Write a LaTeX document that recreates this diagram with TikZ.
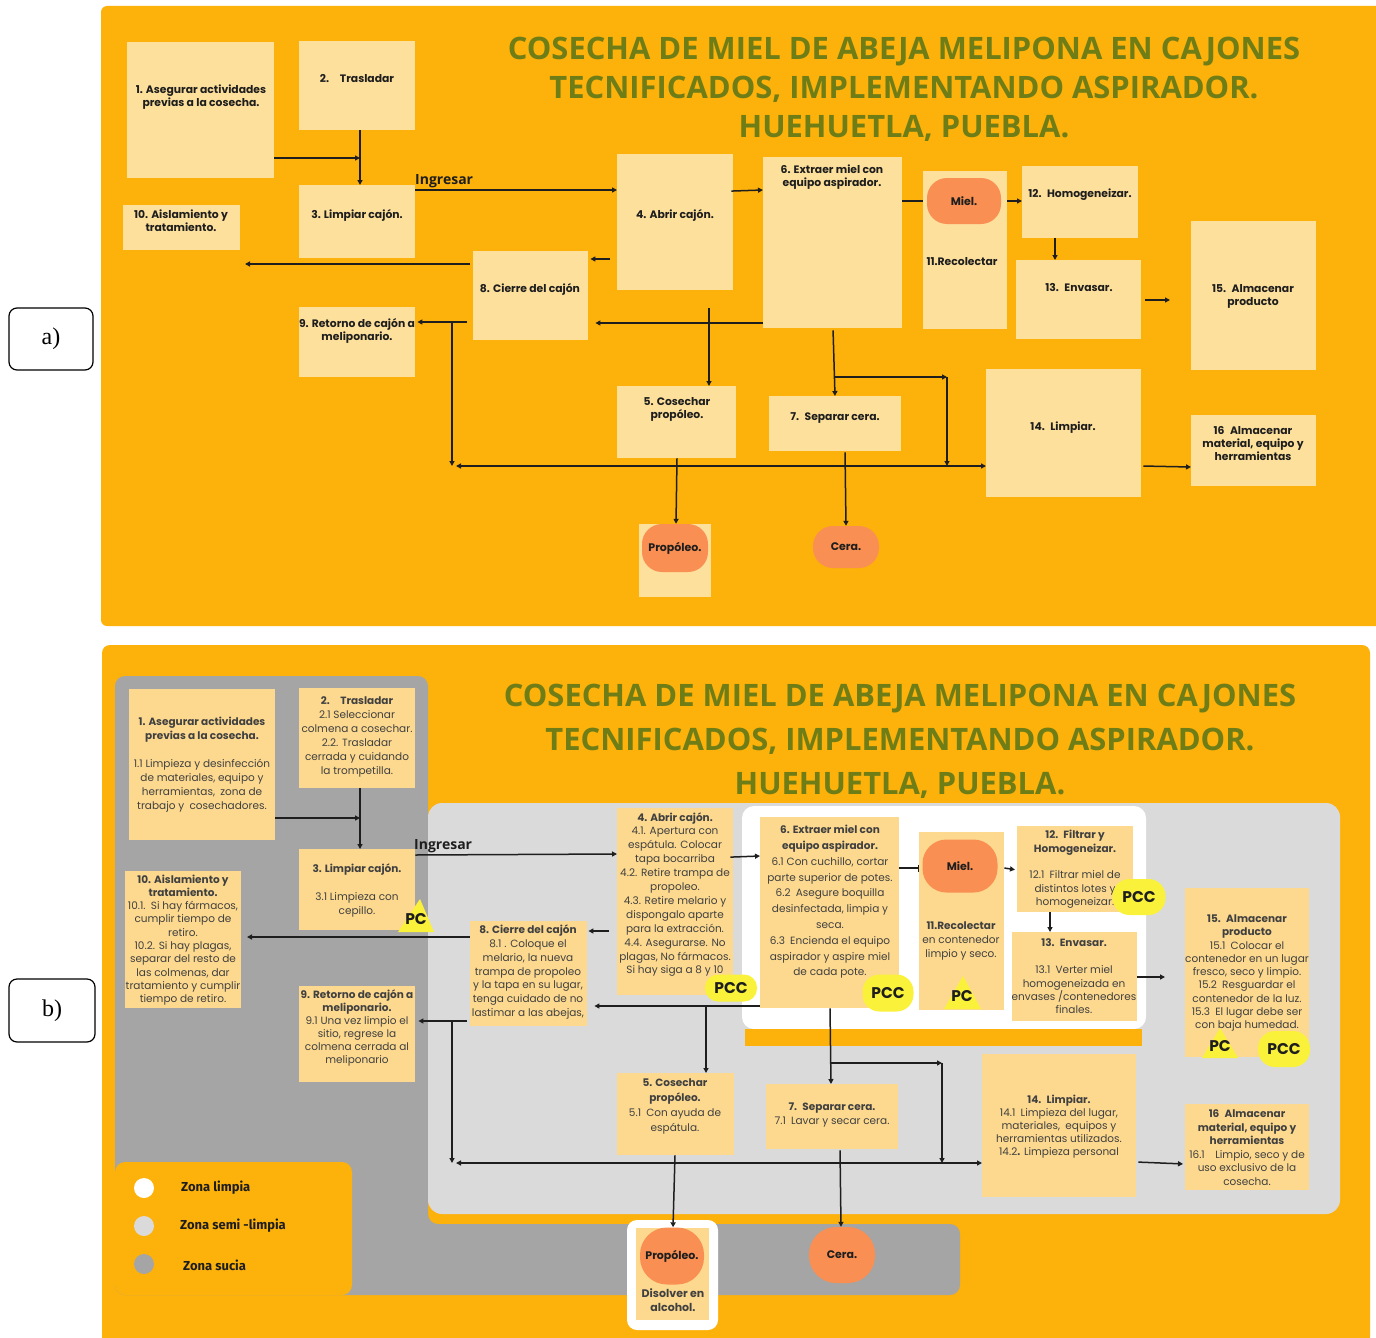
\documentclass[tikz,border=0pt]{standalone}
\usepackage{fontspec}
\setmainfont{Poppins}
\newfontfamily\titlef{Open Sans}
\newfontfamily\legf{Fira Sans}
\newfontfamily\serf{Liberation Serif}
\usetikzlibrary{arrows.meta,calc}
\definecolor{bgc}{HTML}{FDB10B}
\definecolor{boxa}{HTML}{FDE09C}
\definecolor{boxb}{HTML}{FDD98F}
\definecolor{ovalc}{HTML}{F98F52}
\definecolor{pccc}{HTML}{FAF23A}
\definecolor{titlec}{HTML}{6F7D17}
\definecolor{lgray}{HTML}{DADADA}
\definecolor{dgray}{HTML}{A5A5A5}
\definecolor{ink}{HTML}{1E1E1E}
\newcommand\abox[5]{\node[boxA, minimum width=#4pt, minimum height=#5pt] (#1) at (#2,#3) {};}
\newcommand\bbox[5]{\node[boxB, minimum width=#4pt, minimum height=#5pt] (#1) at (#2,#3) {};}
\newcommand\bfs[1]{\fontsize{10.5}{#1}\selectfont}
\begin{document}
\begin{tikzpicture}[x=1pt,y=-1pt,
  boxA/.style={fill=boxa, draw=none, inner sep=0, anchor=north west},
  boxB/.style={fill=boxb, draw=none, inner sep=0, anchor=north west},
  ta/.style={font=\fontsize{10.8}{13}\selectfont\bfseries, align=center, inner sep=0, text=ink},
  tb/.style={font=\bfs{14}, align=center, inner sep=0, text=ink!85},
  oval/.style={fill=ovalc, rounded corners=20pt, inner sep=0, font=\fontsize{11}{13}\selectfont\bfseries, text=ink},
  pcc/.style={fill=pccc, rounded corners=13pt, inner sep=0, font=\fontsize{15.5}{15.5}\selectfont\bfseries, text=ink},
  tri/.style={fill=pccc, draw=none},
  pctxt/.style={font=\fontsize{15.5}{15.5}\selectfont\bfseries, text=ink, inner sep=0},
  arr/.style={draw=ink, line width=1.5pt, -{Triangle[length=5pt,width=5pt]}},
  plain/.style={draw=ink, line width=1.5pt},
  dbl/.style={draw=ink, line width=1.5pt, {Triangle[length=5pt,width=5pt]}-{Triangle[length=5pt,width=5pt]}},
  ttl/.style={text=titlec, align=center, inner sep=0},
  ing/.style={font=\titlef\bfseries\fontsize{14}{14}\selectfont, text=ink, inner sep=0},
  leg/.style={font=\legf\bfseries\fontsize{13}{13}\selectfont, text=ink, inner sep=0, anchor=west},
  lab/.style={draw=black, rounded corners=8pt, line width=1.2pt, fill=white, font=\serf\fontsize{24}{24}\selectfont, inner sep=0}
]
\useasboundingbox (0,0) rectangle (1376,1338);
\fill[white] (0,0) rectangle (1376,1338);

% labels
\node[lab, minimum width=84pt, minimum height=62pt] (laba) at (51,339) {a)};
\node[lab, minimum width=86pt, minimum height=63pt] (labb) at (52,1010.5) {b)};

% ================= PANEL A =================
\fill[bgc, rounded corners=6pt] (101,6) rectangle (1382,626);
\node[ttl, font=\titlef\bfseries\fontsize{30.9}{39}\selectfont] (ttla) at (904,89)
 {COSECHA DE MIEL DE ABEJA MELIPONA EN CAJONES\\TECNIFICADOS, IMPLEMENTANDO ASPIRADOR.\\HUEHUETLA, PUEBLA.};

\abox{a1}{127}{42}{147}{136}
\abox{a2}{299}{41}{116}{89}
\abox{a3}{299}{185}{116}{73}
\abox{a10}{123}{205}{117}{45}
\abox{a9}{299}{307}{116}{70}
\abox{a8}{473}{251}{115}{89}
\abox{a4}{617}{154}{116}{136}
\abox{a6}{763}{157}{139}{171}
\abox{a11}{923}{171}{84}{158}
\abox{a12}{1022}{166}{116}{72}
\abox{a13}{1016}{260}{125}{79}
\abox{a15}{1191}{221}{125}{149}
\abox{a14}{986}{369}{155}{128}
\abox{a16}{1191}{415}{125}{71}
\abox{a5}{617}{386}{119}{72}
\abox{a7}{769}{396}{132}{55}
\abox{apb}{639}{524}{72}{73}

\node[ta] (at1) at (201,97) {1. Asegurar actividades\\previas a la cosecha.};
\node[ta] (at2) at (357,79) {2.\quad Trasladar};
\node[ta] (at3) at (357,215) {3. Limpiar cajón.};
\node[ta] (at10) at (181,221) {10. Aislamiento y\\tratamiento.};
\node[ta] (at9) at (357,331) {9. Retorno de cajón a\\meliponario.};
\node[ta] (at8) at (530,289) {8. Cierre del cajón};
\node[ta] (at4) at (675,215) {4. Abrir cajón.};
\node[ta] (at6) at (832,177) {6. Extraer miel con\\equipo aspirador.};
\node[oval, minimum width=74pt, minimum height=46pt] (amiel) at (964,201) {Miel.};
\node[ta] (at11) at (962,262) {11.Recolectar};
\node[ta] (at12) at (1080,195) {12.\enspace Homogeneizar.};
\node[ta] (at13) at (1079,288) {13.\enspace Envasar.};
\node[ta] (at15) at (1253,296) {15.\enspace Almacenar\\producto};
\node[ta] (at14) at (1063,428) {14.\enspace Limpiar.};
\node[ta] (at16) at (1253,444) {16\enspace Almacenar\\material, equipo y\\herramientas};
\node[ta] (at5) at (677,409) {5. Cosechar\\propóleo.};
\node[ta] (at7) at (835,418) {7.\enspace Separar cera.};
\node[oval, minimum width=66pt, minimum height=48pt] (apro) at (675,548) {Propóleo.};
\node[oval, minimum width=66pt, minimum height=42pt] (acera) at (846,547) {Cera.};
\node[ing, anchor=south west] (aing) at (415,188) {Ingresar};

\coordinate (aj1) at (360,158);
\coordinate (a10e) at (245,264);
\coordinate (aj2) at (452,322);
\coordinate (aj3) at (452,466);
\coordinate (aj4) at (709,308);
\coordinate (aj5) at (835,377);
\coordinate (aj6) at (947,377);
\coordinate (aj7) at (947,466);
\coordinate (aj8) at (456,466);
\draw[arr] (a1.east |- aj1) -- (aj1);
\draw[arr] (a2.south -| aj1) -- (a3.north -| aj1);
\draw[arr] (a3.east |- 0,190) -- (a4.west |- 0,190);
\draw[arr, shorten <=-2pt] (a4.east |- 0,191) -- (a6.west |- 0,190);
\draw[plain] (a6.east |- 0,201) -- (a11.west |- 0,201);
\draw[arr] (a11.east |- 0,201) -- (a12.west |- 0,201);
\draw[arr] (a12.south -| 1055,0) -- (a13.north -| 1055,0);
\draw[arr, shorten <=4pt, shorten >=21pt] (a13.east |- 0,300) -- (a15.west |- 0,300);
\draw[arr, shorten <=7pt, shorten >=2pt] (a4.west |- 0,259) -- (a8.east |- 0,259);
\draw[arr, shorten <=3pt] (a8.west |- 0,264) -- (a10e);
\draw[arr, shorten <=6pt, shorten >=2pt] (a8.west |- 0,322) -- (a9.east |- 0,322);
\draw[arr] (aj2) -- (aj3);
\draw[arr, shorten >=7pt] (a6.west |- 0,323) -- (a8.east |- 0,323);
\draw[arr] (aj4) -- (a5.north -| aj4);
\draw[arr, shorten <=2pt] (a6.south -| 833,0) -- (a7.north -| 835,0);
\draw[arr] (aj5) -- (aj6);
\draw[arr] (aj6) -- (aj7);
\draw[dbl] (aj8) -- (a14.west |- aj8);
\draw[arr] (a5.south -| 677,0) -- (apro.north -| 676,0);
\draw[arr, shorten <=1pt] (a7.south -| 845,0) -- (acera.north);
\draw[arr, shorten <=2pt] (a14.east |- 0,466) -- (a16.west |- 0,467);

% ================= PANEL B =================
\fill[bgc, rounded corners=8pt] (102,645) rectangle (1370,1345);
% zones
\fill[dgray, rounded corners=10pt] (115,676) -- (428,676) -- (428,1224) -- (960,1224) -- (960,1295) -- (115,1295) -- cycle;
\fill[lgray, rounded corners=14pt] (428,803) rectangle (1340,1214);
\fill[white, rounded corners=12pt] (742,806) rectangle (1146,1029);
\fill[bgc] (745,1029) rectangle (1142,1046);
\fill[bgc, rounded corners=10pt] (115,1162) rectangle (352,1295);

\node[ttl, font=\titlef\bfseries\fontsize{30.9}{44}\selectfont] (ttlb) at (900,741)
 {COSECHA DE MIEL DE ABEJA MELIPONA EN CAJONES\\TECNIFICADOS, IMPLEMENTANDO ASPIRADOR.\\HUEHUETLA, PUEBLA.};

\bbox{b1}{129}{689}{146}{151}
\bbox{b2}{299}{688}{116}{100}
\bbox{b3}{299}{849}{116}{81}
\bbox{b10}{125}{871}{116}{137}
\bbox{b9}{299}{986}{116}{96}
\bbox{b8}{470}{921}{117}{105}
\bbox{b4}{617}{808}{116}{187}
\bbox{b6}{760}{817}{139}{191}
\bbox{b11}{919}{832}{85}{178}
\bbox{b12}{1017}{826}{116}{86}
\bbox{b13}{1012}{932}{125}{89}
\bbox{b15}{1185}{888}{124}{169}
\bbox{b14}{982}{1054}{154}{143}
\bbox{b16}{1185}{1104}{124}{86}
\bbox{b5}{617}{1073}{117}{82}
\bbox{b7}{766}{1084}{132}{65}

\node[tb] (bt1) at (202,764.5) {\textbf{1. Asegurar actividades}\\\textbf{previas a la cosecha.}\\[14pt]1.1 Limpieza y desinfección\\de materiales, equipo y\\herramientas,\enspace zona de\\trabajo y\enspace cosechadores.};
\node[tb] (bt2) at (357,737) {\textbf{2.\quad Trasladar}\\2.1 Seleccionar\\colmena a cosechar.\\2.2. Trasladar\\cerrada y cuidando\\la trompetilla.};
\node[tb] (bt3) at (357,890) {\textbf{3. Limpiar cajón.}\\[14pt]3.1 Limpieza con\\cepillo.};
\node[tb, font=\bfs{13.3}] (bt10) at (183,940) {\textbf{10. Aislamiento y}\\\textbf{tratamiento.}\\10.1.\enspace Si hay fármacos,\\cumplir tiempo de\\retiro.\\10.2. Si hay plagas,\\separar del resto de\\las colmenas, dar\\tratamiento y cumplir\\tiempo de retiro.};
\node[tb, font=\bfs{13}] (bt9) at (357,1028) {\textbf{9. Retorno de cajón a}\\\textbf{meliponario.}\\9.1 Una vez limpio el\\sitio, regrese la\\colmena cerrada al\\meliponario};
\node[tb, font=\bfs{13.8}] (bt8) at (528,972) {\textbf{8. Cierre del cajón}\\8.1 . Coloque el\\melario, la nueva\\trampa de propoleo\\y la tapa en su lugar,\\tenga cuidado de no\\lastimar a las abejas,};
\node[tb, font=\bfs{13.9}] (bt4) at (675,894.5) {\textbf{4. Abrir cajón.}\\4.1. Apertura con\\espátula. Colocar\\tapa bocarriba\\4.2. Retire trampa de\\propoleo.\\4.3. Retire melario y\\dispongalo aparte\\para la extracción.\\4.4. Asegurarse. No\\plagas, No fármacos.\\Si hay siga a 8 y 10};
\node[tb, font=\bfs{15.8}] (bt6) at (830,902) {\textbf{6. Extraer miel con}\\\textbf{equipo aspirador.}\\6.1 Con cuchillo, cortar\\parte superior de potes.\\6.2\enspace Asegure boquilla\\desinfectada, limpia y\\seca.\\6.3\enspace Encienda el equipo\\aspirador y aspire miel\\de cada pote.};
\node[oval, minimum width=75pt, minimum height=53pt, rounded corners=24pt] (bmiel) at (960,866) {Miel.};
\node[tb] (bt11) at (961,941) {\textbf{11.Recolectar}\\en contenedor\\limpio y seco.};
\node[tb, font=\bfs{13.4}] (bt12) at (1075,869.5) {\textbf{12.\enspace Filtrar y}\\\textbf{Homogeneizar.}\\[13.4pt]12.1\enspace Filtrar miel de\\distintos lotes y\\homogeneizar.};
\node[tb, font=\bfs{13.4}] (bt13) at (1074,976.5) {\textbf{13.\enspace Envasar.}\\[13.4pt]13.1\enspace Verter miel\\homogeneizada en\\envases /contenedores\\finales.};
\node[tb, font=\bfs{13.25}] (bt15) at (1247,973) {\textbf{15.\enspace Almacenar}\\\textbf{producto}\\15.1\enspace Colocar el\\contenedor en un lugar\\fresco, seco y limpio.\\15.2\enspace Resguardar el\\contenedor de la luz.\\15.3\enspace El lugar debe ser\\con baja humedad.};
\node[tb, font=\bfs{13}] (bt14) at (1059,1126.5) {\textbf{14.\enspace Limpiar.}\\14.1\enspace Limpieza del lugar,\\materiales,\enspace equipos y\\herramientas utilizados.\\14.2\textbf{.} Limpieza personal};
\node[tb, font=\bfs{13.5}] (bt16) at (1247,1147.5) {\textbf{16\enspace Almacenar}\\\textbf{material, equipo y}\\\textbf{herramientas}\\16.1\quad Limpio, seco y de\\uso exclusivo de la\\cosecha.};
\node[tb, font=\bfs{15}] (bt5) at (675,1106.5) {\textbf{5. Cosechar}\\\textbf{propóleo.}\\5.1\enspace Con ayuda de\\espátula.};
\node[tb] (bt7) at (832,1115) {\textbf{7.\enspace Separar cera.}\\7.1\enspace Lavar y secar cera.};

% propoleo frame
\node[fill=white, rounded corners=10pt, minimum width=91pt, minimum height=110pt, inner sep=0] (bpf) at (672.5,1275) {};
\node[boxB, minimum width=73pt, minimum height=92pt] (bpb) at (636,1228) {};
\node[oval, minimum width=64pt, minimum height=57pt, rounded corners=27pt] (bpro) at (672,1256) {Propóleo.};
\node[tb, font=\fontsize{11}{14}\selectfont\bfseries] (bdis) at (673,1300) {Disolver en\\alcohol.};
\node[oval, minimum width=66pt, minimum height=56pt, rounded corners=27pt] (bcera) at (842,1255) {Cera.};

% PC / PCC marks
\fill[tri] (398,932) -- (420,899) -- (434,932) -- cycle;
\node[pctxt] (pc1) at (416,919) {PC};
\fill[tri] (944,1009) -- (963,976) -- (981,1009) -- cycle;
\node[pctxt] (pc2) at (962,996) {PC};
\fill[tri] (1202,1058) -- (1220,1028) -- (1238,1058) -- cycle;
\node[pctxt] (pc3) at (1220,1046) {PC};
\node[pcc, minimum width=52pt, minimum height=27pt] (pcc1) at (731,988) {PCC};
\node[pcc, minimum width=51pt, minimum height=37pt, rounded corners=17pt] (pcc2) at (888,993) {PCC};
\node[pcc, minimum width=53pt, minimum height=36pt, rounded corners=17pt] (pcc3) at (1139,897) {PCC};
\node[pcc, minimum width=52pt, minimum height=36pt, rounded corners=17pt] (pcc4) at (1284,1049) {PCC};

\node[ing, anchor=south west] (bing) at (414,853) {Ingresar};

\coordinate (bj1) at (360,818);
\coordinate (b10e) at (247,937);
\coordinate (bj2) at (452,1021);
\coordinate (bj3) at (452,1163);
\coordinate (bj4) at (706,1006);
\coordinate (bj5) at (831,1063);
\coordinate (bj6) at (942,1063);
\coordinate (bj7) at (942,1163);
\coordinate (bj8) at (456,1163);
\draw[arr] (b1.east |- bj1) -- (bj1);
\draw[arr] (b2.south -| bj1) -- (b3.north -| bj1);
\draw[arr] (b3.east |- 0,855) -- (b4.west |- 0,854);
\draw[arr, shorten <=-3pt] (b4.east |- 0,857) -- (b6.west |- 0,856);
\draw[draw=ink, line width=1.5pt, -{Bar[width=7pt]}] (b6.east |- 0,868) -- (b11.west |- 0,868);
\draw[arr, shorten >=2pt] (b11.east |- 0,868) -- (b12.west |- 0,870);
\draw[arr] (b12.south -| 1050,0) -- (b13.north -| 1050,0);
\draw[arr, shorten >=20pt] (b13.east |- 0,977) -- (b15.west |- 0,977);
\draw[arr, shorten <=8pt, shorten >=1pt] (b4.west |- 0,931) -- (b8.east |- 0,931);
\draw[arr] (b8.west |- 0,937) -- (b10e);
\draw[arr, shorten <=3pt, shorten >=3pt] (b8.west |- 0,1021) -- (b9.east |- 0,1021);
\draw[arr] (bj2) -- (bj3);
\draw[arr, shorten >=7pt] (b6.west |- 0,1006) -- (b8.east |- 0,1006);
\draw[arr] (bj4) -- (b5.north -| bj4);
\draw[arr] (b6.south -| 830,0) -- (b7.north -| 831,0);
\draw[arr] (bj5) -- (bj6);
\draw[arr] (bj6) -- (bj7);
\draw[dbl] (bj8) -- (b14.west |- bj8);
\draw[arr] (b5.south -| 675,0) -- (bpro.north -| 673,0);
\draw[arr, shorten <=1pt] (b7.south -| 840,0) -- (bcera.north -| 841,0);
\draw[arr, shorten <=2pt, shorten >=2pt] (b14.east |- 0,1162) -- (b16.west |- 0,1164);

% legend
\node[circle, fill=white, minimum width=20pt, minimum height=20pt, inner sep=0] (lg1) at (144,1188) {};
\node[circle, fill=lgray, minimum width=20pt, minimum height=20pt, inner sep=0] (lg2) at (144,1226) {};
\node[circle, fill=dgray, minimum width=20pt, minimum height=20pt, inner sep=0] (lg3) at (144,1264) {};
\node[leg] (lt1) at (181,1188) {Zona limpia};
\node[leg] (lt2) at (180,1226) {Zona semi -limpia};
\node[leg] (lt3) at (183,1265) {Zona sucia};
\end{tikzpicture}
\end{document}
